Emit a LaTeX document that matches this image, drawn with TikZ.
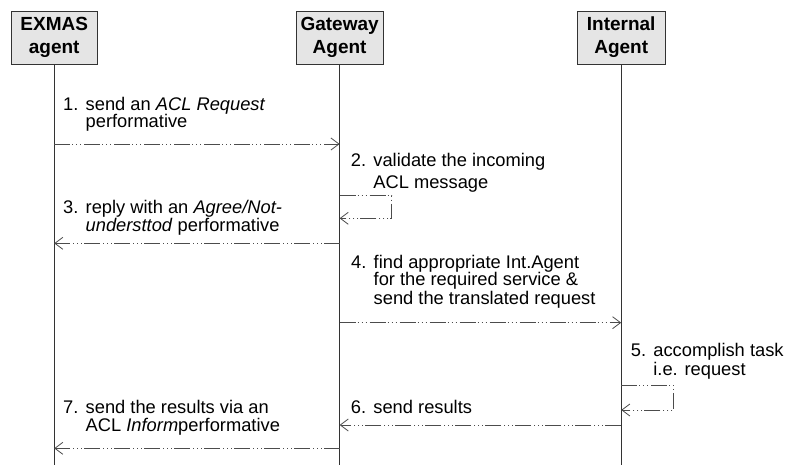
\documentclass[tikz,border=0pt]{standalone}
\usepackage{fontspec}
\setmainfont{Liberation Sans}
\usetikzlibrary{arrows.meta}

% hanging-indent message labels: "n." then the text, continuation lines indented
\newlength\numw
\setlength\numw{22.5pt}
\newcommand\firstline[2]{\hbox{\makebox[\numw][l]{#1}#2}}
\newcommand\nextline[2]{\vskip#1\hbox{\hspace*{\numw}#2}}
\newcommand\steptext[1]{\vtop{\baselineskip=0pt\lineskip=0pt\lineskiplimit=-\maxdimen #1}}

\begin{document}
\begin{tikzpicture}[x=1pt,y=-1pt,
  agentbox/.style={draw=black!80, fill=black!10, line width=0.9pt,
    minimum width=86pt, minimum height=53pt, inner sep=0pt, align=center,
    font=\fontsize{19}{23}\selectfont\bfseries},
  lifeline/.style={draw=black!80, line width=0.9pt},
  msg/.style={draw=black!70, line width=0.8pt,
    dash pattern=on 16pt off 2pt on 1pt off 3pt on 1pt off 3pt on 1pt off 3pt,
    -{Straight Barb[length=8pt,width=12pt]}},
  steplabel/.style={anchor=base west, inner sep=0pt,
    font=\fontsize{18.3}{18.3}\selectfont}]

\useasboundingbox (0,0) rectangle (790,465);

% participants
\node[agentbox] (ex) at (54.2,37.7) {EXMAS\\agent};
\node[agentbox, minimum width=87pt] (gw) at (339.6,37.5) {Gateway\\Agent};
\node[agentbox, minimum width=88pt] (ia) at (621.2,37.6) {Internal\\Agent};

% lifelines
\coordinate (exEnd) at (ex.south |- 0,465);
\coordinate (gwEnd) at (gw.south |- 0,465);
\coordinate (iaEnd) at (ia.south |- 0,465);
\draw[lifeline] (ex.south) -- (exEnd);
\draw[lifeline] (gw.south) -- (gwEnd);
\draw[lifeline] (ia.south) -- (iaEnd);

% 1. request
\node[steplabel] (t1) at (63,111) {\steptext{%
  \firstline{1.}{send an \textit{ACL Request}}%
  \nextline{16.7pt}{performative}}};
\draw[msg] (ex.south |- 0,144) -- (gw.south |- 0,144);

% 2. validation (self message)
\node[steplabel] (t2) at (350.7,166.7) {\steptext{%
  \firstline{2.}{validate the incoming}%
  \nextline{21.7pt}{ACL message}}};
\draw[msg] (gw.south |- 0,195.7) -- (391.7,195.7) -- (391.7,218.3) -- (gw.south |- 0,218.3);

% 3. reply
\node[steplabel] (t3) at (63,214) {\steptext{%
  \firstline{3.}{reply with an \textit{Agree/Not-}}%
  \nextline{17.5pt}{\textit{understtod} performative}}};
\draw[msg] (gw.south |- 0,243.3) -- (ex.south |- 0,243.3);

% 4. forward to internal agent
\node[steplabel] (t4) at (351,268.3) {\steptext{%
  \firstline{4.}{find appropriate Int.Agent}%
  \nextline{16.7pt}{for the required service \&}%
  \nextline{20pt}{send the translated request}}};
\draw[msg] (gw.south |- 0,322.7) -- (ia.south |- 0,322.7);

% 5. task (self message)
\node[steplabel] (t5) at (630.7,356.7) {\steptext{%
  \firstline{5.}{accomplish task}%
  \nextline{18.3pt}{i.e. request}}};
\draw[msg] (ia.south |- 0,385) -- (673.3,385) -- (673.3,410) -- (ia.south |- 0,410);

% 6. results back to gateway
\node[steplabel] (t6) at (350.7,413) {\steptext{%
  \firstline{6.}{send results}}};
\draw[msg] (ia.south |- 0,425) -- (gw.south |- 0,425);

% 7. results to EXMAS
\node[steplabel] (t7) at (63,413) {\steptext{%
  \firstline{7.}{send the results via an}%
  \nextline{18.7pt}{ACL \textit{Inform}performative}}};
\draw[msg] (gw.south |- 0,448.3) -- (ex.south |- 0,448.3);

\end{tikzpicture}
\end{document}
